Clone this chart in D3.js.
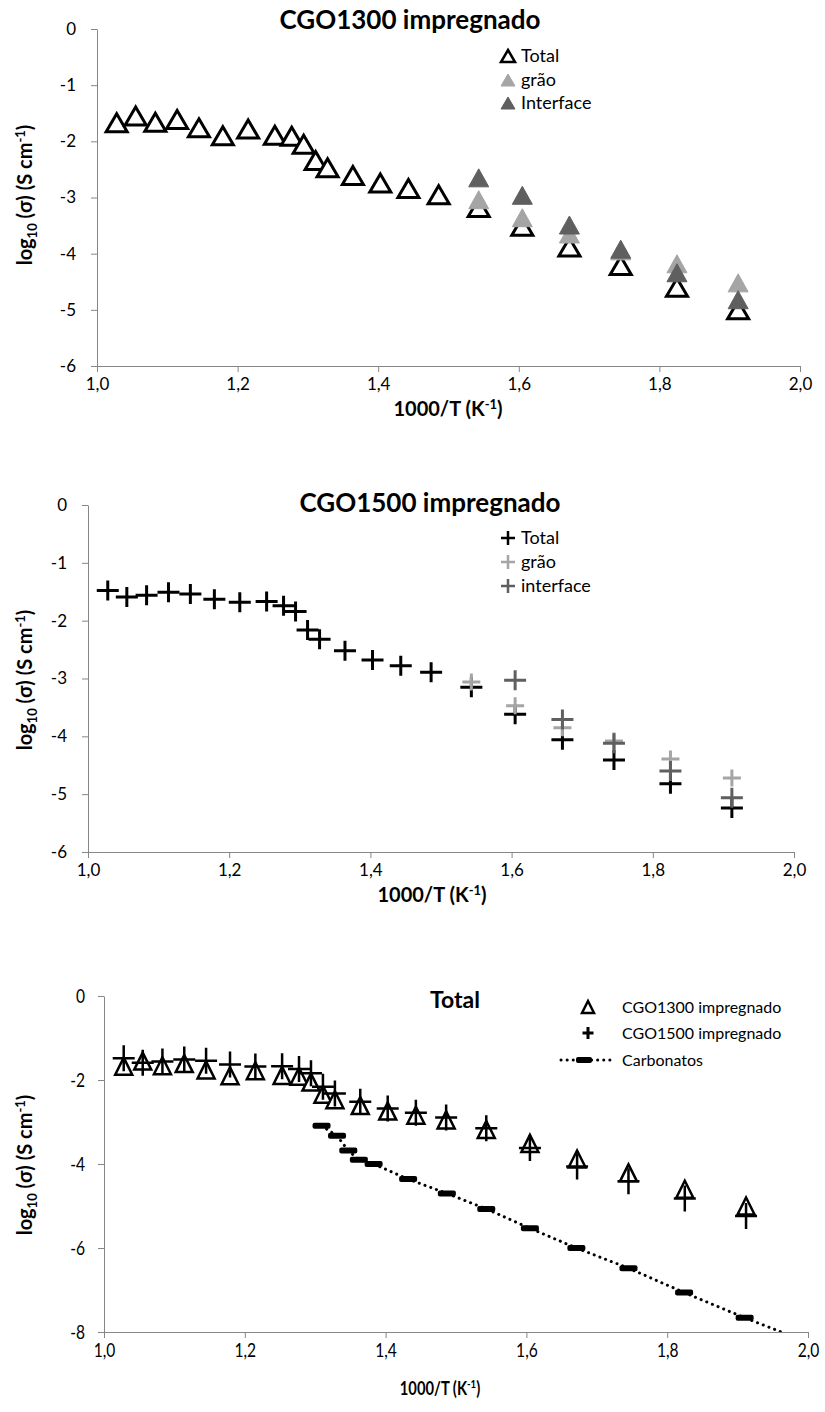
<!DOCTYPE html>
<html lang="pt">
<head>
<meta charset="UTF-8">
<title>CGO impregnado</title>
<style>
  body { margin: 0; background: #fff; }
  text { font-family: Lato, "Open Sans", sans-serif; fill: #000; }
</style>
</head>
<body>
<svg id="container" width="825" height="1412"></svg>
<script src="https://cdn.jsdelivr.net/npm/d3@7"></script>
<script>
// 1000/T (K^-1) for every measurement temperature
const invT = [1.028, 1.055, 1.083, 1.114, 1.145, 1.179, 1.215, 1.253, 1.277, 1.294, 1.311,
              1.328, 1.364, 1.403, 1.443, 1.486, 1.543, 1.605, 1.672, 1.745, 1.825, 1.912]
// low temperature points where grain / interface could be separated
const invTSplit = [1.543, 1.605, 1.672, 1.745, 1.825, 1.912]

const cgo1300Total = [-1.67, -1.55, -1.66, -1.61, -1.76, -1.90, -1.78, -1.89, -1.91, -2.05, -2.34,
                      -2.47, -2.61, -2.74, -2.84, -2.95, -3.18, -3.51, -3.88, -4.21, -4.60, -5.00]
const cgo1300Grao = [-3.04, -3.36, -3.65, -3.95, -4.18, -4.52]
const cgo1300Interface = [-2.65, -2.96, -3.49, -3.92, -4.34, -4.82]

const cgo1500Total = [-1.48, -1.59, -1.56, -1.51, -1.54, -1.63, -1.68, -1.67, -1.74, -1.84, -2.16,
                      -2.32, -2.52, -2.68, -2.78, -2.89, -3.15, -3.62, -4.06, -4.41, -4.82, -5.24]
const cgo1500Grao = [-3.06, -3.47, -3.85, -4.08, -4.39, -4.72]
const cgo1500Interface = [null, -3.03, -3.71, -4.12, -4.60, -5.06]

const carbT = [1.309, 1.331, 1.347, 1.362, 1.383, 1.432, 1.487, 1.543, 1.605, 1.671, 1.745, 1.824, 1.910, 2.000]
const carbLog = [-3.09, -3.33, -3.68, -3.90, -4.00, -4.36, -4.70, -5.07, -5.53, -6.00, -6.48, -7.06, -7.66, -8.25]

const xTicks = [1.0, 1.2, 1.4, 1.6, 1.8, 2.0]
const yTicks6 = [0, -1, -2, -3, -4, -5, -6]
const yTicks8 = [0, -2, -4, -6, -8]

const LIGHT = "#a5a5a5", DARK = "#5f5f5f", AXIS = "#868686"

const loc = d3.formatLocale({decimal: ",", thousands: ".", grouping: [3], currency: ["", ""], minus: "-"})
const fx = loc.format(".1f"), fy = loc.format("d")

const svg = d3.select("#container")

function zip(xs, ys) {
  return xs.map((x, i) => ({x: x, y: ys[i]})).filter(d => d.y != null)
}

// marker shapes, centred on 0,0
function triPath(w, h) {
  return `M0,${-h/2}L${w/2},${h/2}L${-w/2},${h/2}Z`
}
function plusPath(w, h) {
  return `M${-w/2},0H${w/2}M0,${-h/2}V${h/2}`
}

function yTitle(g, cx, cy, size) {
  let t = g.append("text")
    .attr("transform", `translate(${cx},${cy}) rotate(-90)`)
    .attr("text-anchor", "middle")
    .attr("font-weight", "bold")
    .attr("font-size", size)
  t.append("tspan").text("log")
  t.append("tspan").text("10").attr("font-size", size * 0.65).attr("dy", 5)
  t.append("tspan").text(" (σ) (S cm").attr("dy", -5)
  t.append("tspan").text("-1").attr("font-size", size * 0.65).attr("dy", -7)
  t.append("tspan").text(")").attr("dy", 7)
}

function xTitle(g, cx, cy, size, squeeze) {
  let t = g.append("text")
    .attr("transform", `translate(${cx},${cy}) scale(${squeeze},1)`)
    .attr("text-anchor", "middle")
    .attr("font-weight", "bold")
    .attr("font-size", size)
  t.append("tspan").text("1000/T (K")
  t.append("tspan").text("-1").attr("font-size", size * 0.65).attr("dy", -7)
  t.append("tspan").text(")").attr("dy", 7)
}

function frame(c) {
  let g = svg.append("g")
  let x = d3.scaleLinear().domain([1, 2]).range([c.left, c.right])
  let y = d3.scaleLinear().domain([c.ymin, 0]).range([c.bottom, c.top])

  let ax = g.append("g").attr("transform", `translate(0,${c.bottom})`)
    .call(d3.axisBottom(x).tickValues(xTicks).tickFormat(fx).tickSize(6).tickSizeOuter(0))
  let ay = g.append("g").attr("transform", `translate(${c.left},0)`)
    .call(d3.axisLeft(y).tickValues(c.yTicks).tickFormat(fy).tickSize(6).tickSizeOuter(0))
  for (let a of [ax, ay]) {
    a.selectAll("path, line").attr("stroke", AXIS)
    a.selectAll("text").attr("font-size", c.tickSize).attr("fill", "#222")
      .style("font-family", "Lato, 'Open Sans', sans-serif")
  }
  ax.selectAll("text").attr("dy", null).attr("y", c.xLabelDy)
    .attr("transform", `scale(${c.squeeze},1)`)
  ay.selectAll("text").attr("x", -c.yLabelGap / c.squeeze).attr("transform", `scale(${c.squeeze},1)`)

  let clipId = "clip" + c.top
  g.append("clipPath").attr("id", clipId).append("rect")
    .attr("x", c.left).attr("y", c.top).attr("width", c.right - c.left).attr("height", c.bottom - c.top)
  let plot = g.append("g").attr("clip-path", `url(#${clipId})`)
  return {g, x, y, plot}
}

function markers(f, data, path, fill, stroke, sw) {
  f.plot.append("g").selectAll("path").data(data).join("path")
    .attr("transform", d => `translate(${f.x(d.x)},${f.y(d.y)})`)
    .attr("d", path)
    .attr("fill", fill).attr("stroke", stroke).attr("stroke-width", sw)
}

function legendRow(g, x, y, path, fill, stroke, sw, label, size, tx) {
  g.append("path").attr("transform", `translate(${x},${y})`).attr("d", path)
    .attr("fill", fill).attr("stroke", stroke).attr("stroke-width", sw)
  g.append("text").attr("x", tx).attr("y", y).attr("dy", "0.35em")
    .attr("font-size", size).text(label)
}

// ---- chart 1: CGO1300 impregnado
{
  let f = frame({left: 97, right: 800, top: 29, bottom: 366, ymin: -6, yTicks: yTicks6,
                 tickSize: 17, xLabelDy: 24, yLabelGap: 21, squeeze: 1})
  let tri = triPath(21, 18), triS = triPath(20, 18)
  markers(f, zip(invT, cgo1300Total), tri, "#fff", "#000", 3)
  markers(f, zip(invTSplit, cgo1300Grao), triS, LIGHT, LIGHT, 1)
  markers(f, zip(invTSplit, cgo1300Interface), triS, DARK, DARK, 1)

  f.g.append("text").attr("x", 410).attr("y", 29).attr("text-anchor", "middle")
    .attr("font-weight", "bold").attr("font-size", 26).text("CGO1300 impregnado")
  yTitle(f.g, 32, 195, 20)
  xTitle(f.g, 448, 416, 20, 1)

  legendRow(f.g, 508, 56, triPath(14, 12), "#fff", "#000", 2.5, "Total", 18, 521)
  legendRow(f.g, 508, 80, triPath(14, 12), LIGHT, LIGHT, 1, "grão", 18, 521)
  legendRow(f.g, 508, 103, triPath(14, 12), DARK, DARK, 1, "Interface", 18, 521)
}

// ---- chart 2: CGO1500 impregnado
{
  let f = frame({left: 88, right: 794, top: 505, bottom: 852, ymin: -6, yTicks: yTicks6,
                 tickSize: 17, xLabelDy: 24, yLabelGap: 21, squeeze: 1})
  let plus = plusPath(22, 20)
  markers(f, zip(invT, cgo1500Total), plus, "none", "#000", 3)
  markers(f, zip(invTSplit, cgo1500Grao), plusPath(18, 17), "none", LIGHT, 3)
  markers(f, zip(invTSplit, cgo1500Interface), plus, "none", DARK, 3)

  f.g.append("text").attr("x", 430).attr("y", 512).attr("text-anchor", "middle")
    .attr("font-weight", "bold").attr("font-size", 26).text("CGO1500 impregnado")
  yTitle(f.g, 32, 680, 20)
  xTitle(f.g, 432, 902, 20, 1)

  legendRow(f.g, 508, 538, plusPath(14, 14), "none", "#000", 2.5, "Total", 18, 521)
  legendRow(f.g, 508, 562, plusPath(14, 14), "none", LIGHT, 2.5, "grão", 18, 521)
  legendRow(f.g, 508, 586, plusPath(14, 14), "none", DARK, 2.5, "interface", 18, 521)
}

// ---- chart 3: Total
{
  let f = frame({left: 104, right: 808, top: 996, bottom: 1332, ymin: -8, yTicks: yTicks8,
                 tickSize: 19, xLabelDy: 25, yLabelGap: 19, squeeze: 0.82})

  let carb = zip(carbT, carbLog)
  f.plot.append("path").datum(carb)
    .attr("d", d3.line().x(d => f.x(d.x)).y(d => f.y(d.y)))
    .attr("fill", "none").attr("stroke", "#000").attr("stroke-width", 3)
    .attr("stroke-linecap", "round").attr("stroke-dasharray", "0.1 6")
  f.plot.append("g").selectAll("rect").data(carb).join("rect")
    .attr("x", d => f.x(d.x) - 9).attr("y", d => f.y(d.y) - 3)
    .attr("width", 18).attr("height", 6).attr("rx", 2).attr("fill", "#000")

  markers(f, zip(invT, cgo1300Total), triPath(17, 17), "#fff", "#000", 2.5)
  markers(f, zip(invT, cgo1500Total), plusPath(22, 26), "none", "#000", 2.5)

  f.g.append("text").attr("x", 455).attr("y", 1008).attr("text-anchor", "middle")
    .attr("font-weight", "bold").attr("font-size", 23).text("Total")
  yTitle(f.g, 32, 1165, 20)
  xTitle(f.g, 440, 1395, 18, 0.82)

  legendRow(f.g, 588, 1007, triPath(12, 12), "#fff", "#000", 2.5, "CGO1300 impregnado", 16, 622)
  legendRow(f.g, 588, 1033, plusPath(11, 12), "none", "#000", 3, "CGO1500 impregnado", 16, 622)
  f.g.append("line").attr("x1", 561).attr("x2", 612).attr("y1", 1060).attr("y2", 1060)
    .attr("stroke", "#000").attr("stroke-width", 3).attr("stroke-linecap", "round")
    .attr("stroke-dasharray", "0.1 6")
  f.g.append("rect").attr("x", 576).attr("y", 1057).attr("width", 16).attr("height", 6)
    .attr("rx", 2).attr("fill", "#000")
  f.g.append("text").attr("x", 622).attr("y", 1060).attr("dy", "0.35em")
    .attr("font-size", 16).text("Carbonatos")
}
</script>
</body>
</html>
